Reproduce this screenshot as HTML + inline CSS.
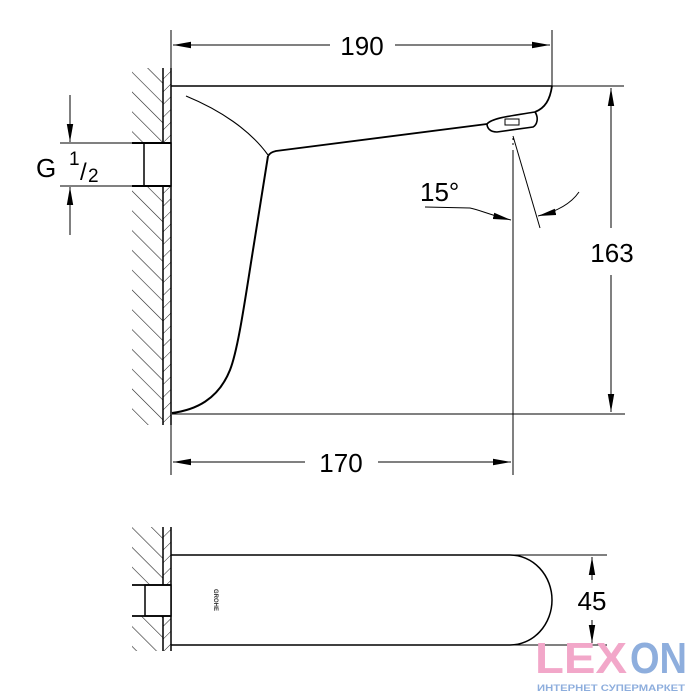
<!DOCTYPE html>
<html><head><meta charset="utf-8"><style>
html,body{margin:0;padding:0;background:#fff;}
svg{display:block;}
text{font-family:"Liberation Sans",sans-serif;}
</style></head><body>
<svg width="700" height="700" viewBox="0 0 700 700" xmlns="http://www.w3.org/2000/svg">
<defs>
<pattern id="h" patternUnits="userSpaceOnUse" width="14" height="14" patternTransform="rotate(-45)">
<line x1="0" y1="0" x2="0" y2="14" stroke="#222" stroke-width="1.2"/>
</pattern>
<pattern id="h2" patternUnits="userSpaceOnUse" width="9" height="9" patternTransform="rotate(45)">
<line x1="0" y1="0" x2="0" y2="9" stroke="#222" stroke-width="1"/>
</pattern>
<marker id="b" viewBox="0 0 10 10" refX="10" refY="5" markerWidth="18" markerHeight="8" markerUnits="userSpaceOnUse" orient="auto-start-reverse" preserveAspectRatio="none"><path d="M0,1 L10,5 L0,9 Z" fill="#000"/></marker>
</defs>
<g fill="none" stroke="#000">
<rect x="132" y="68" width="31" height="75" fill="url(#h)" stroke="none"/>
<rect x="132" y="187" width="31" height="238" fill="url(#h)" stroke="none"/>
<rect x="163" y="68" width="8" height="357" fill="url(#h2)" stroke="none"/>
<line x1="163" y1="68" x2="163" y2="425" stroke-width="1.5"/>
<line x1="171" y1="68" x2="171" y2="425" stroke-width="1.5"/>
<rect x="144" y="143" width="27" height="43" fill="#fff" stroke-width="1.5"/>
<line x1="132" y1="143" x2="171" y2="143" stroke-width="2"/>
<line x1="132" y1="186" x2="171" y2="186" stroke-width="2"/>
<line x1="171" y1="86" x2="552" y2="86" stroke-width="1.5"/>
<path d="M552,86 C550,100 545,108 535,112" stroke-width="1.8"/>
<path d="M487,124 C492,118 510,116 535,112 C539,118 537,125 533,127 L497,132 C490,132 487,128 487,124 Z" stroke-width="1.6"/>
<rect x="505" y="119" width="14" height="6" stroke-width="1"/>
<path d="M487,124 L276,151 C272,152 270,153 268,156" stroke-width="1.8"/>
<path d="M186,96 C220,110 250,130 268,155" stroke-width="1.1"/>
<path d="M268,156 L253,250 C245,300 238,350 230,370 C218,400 195,410 172,413" stroke-width="2"/>
<line x1="172" y1="414" x2="625" y2="414" stroke-width="1"/>
<line x1="171" y1="30" x2="171" y2="68" stroke-width="1"/>
<line x1="552" y1="30" x2="552" y2="86" stroke-width="1"/>
<line x1="173" y1="45" x2="330" y2="45" stroke-width="1" marker-start="url(#b)"/>
<line x1="395" y1="45" x2="550" y2="45" stroke-width="1" marker-end="url(#b)"/>
<line x1="552" y1="86" x2="624" y2="86" stroke-width="1"/>
<line x1="611" y1="88" x2="611" y2="228" stroke-width="1" marker-start="url(#b)"/>
<line x1="611" y1="275" x2="611" y2="412" stroke-width="1" marker-end="url(#b)"/>
<line x1="171" y1="425" x2="171" y2="475" stroke-width="1"/>
<line x1="513" y1="150" x2="513" y2="475" stroke-width="1"/>
<line x1="513" y1="138" x2="513" y2="146" stroke-width="1" stroke-dasharray="2,3"/>
<line x1="173" y1="462" x2="305" y2="462" stroke-width="1" marker-start="url(#b)"/>
<line x1="378" y1="462" x2="511" y2="462" stroke-width="1" marker-end="url(#b)"/>
<line x1="513" y1="136" x2="540" y2="228" stroke-width="1"/>
<path d="M425,207 L470,208 C480,210 490,215 511,220" stroke-width="1" marker-end="url(#b)"/>
<path d="M579,192 C570,205 555,212 538,216" stroke-width="1" marker-end="url(#b)"/>
<line x1="60" y1="143" x2="132" y2="143" stroke-width="1"/>
<line x1="60" y1="186" x2="132" y2="186" stroke-width="1"/>
<line x1="70" y1="95" x2="70" y2="142" stroke-width="1" marker-end="url(#b)"/>
<line x1="70" y1="235" x2="70" y2="187" stroke-width="1" marker-end="url(#b)"/>
<rect x="132" y="527" width="31" height="58" fill="url(#h)" stroke="none"/>
<rect x="132" y="616" width="31" height="35" fill="url(#h)" stroke="none"/>
<rect x="163" y="527" width="8" height="124" fill="url(#h2)" stroke="none"/>
<line x1="163" y1="527" x2="163" y2="651" stroke-width="1.5"/>
<line x1="171" y1="527" x2="171" y2="651" stroke-width="1.5"/>
<rect x="145" y="585" width="26" height="31" fill="#fff" stroke-width="1.5"/>
<line x1="132" y1="585" x2="171" y2="585" stroke-width="1.8"/>
<line x1="132" y1="616" x2="171" y2="616" stroke-width="1.8"/>
<path d="M171,555 L510,555 A42,45 0 0 1 510,645 L171,645" stroke-width="1.5"/>
<line x1="510" y1="555" x2="607" y2="555" stroke-width="1"/>
<line x1="510" y1="645" x2="607" y2="645" stroke-width="1"/>
<line x1="592" y1="580" x2="592" y2="557" stroke-width="1" marker-end="url(#b)"/>
<line x1="592" y1="620" x2="592" y2="643" stroke-width="1" marker-end="url(#b)"/>
</g>
<text x="214" y="600" font-size="6" transform="rotate(90 214 600)" text-anchor="middle" fill="#333" font-weight="bold">GROHE</text>
<g fill="#000" font-size="26">
<text x="362" y="55" text-anchor="middle">190</text>
<text x="341" y="472" text-anchor="middle">170</text>
<text x="612" y="262" text-anchor="middle">163</text>
<text x="420" y="201">15°</text>
<text x="592" y="610" text-anchor="middle">45</text>
<text x="36" y="177">G</text>
<text x="69" y="165" font-size="19">1</text>
<text x="80" y="180" font-size="24">/</text>
<text x="88" y="182" font-size="19">2</text>
</g>
<g font-family="DejaVu Sans, sans-serif" font-weight="bold">
<text x="535" y="673" font-size="44" fill="#f2a7c9" textLength="92" lengthAdjust="spacingAndGlyphs">LEX</text>
<text x="630" y="673" font-size="44" fill="#8eaedd" textLength="57" lengthAdjust="spacingAndGlyphs">ON</text>
<text x="537" y="691" font-size="9" fill="#8eaedd" textLength="148" lengthAdjust="spacingAndGlyphs">ИНТЕРНЕТ СУПЕРМАРКЕТ</text>
</g>
</svg>
</body></html>
